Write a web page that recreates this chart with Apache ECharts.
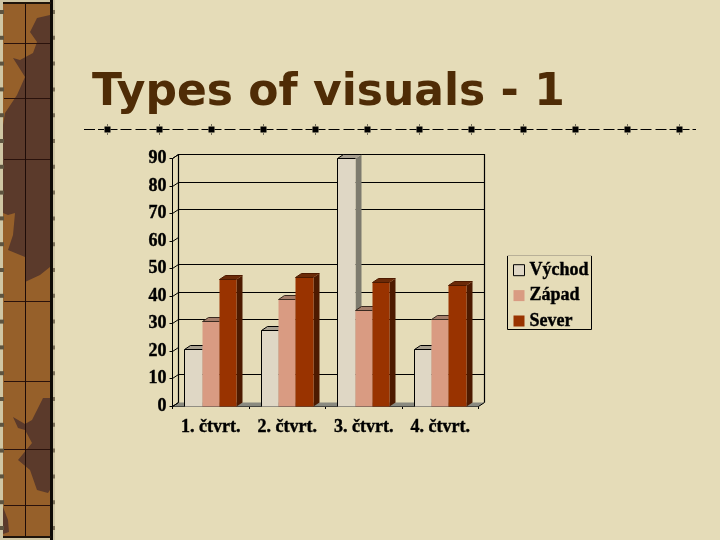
<!DOCTYPE html>
<html>
<head>
<meta charset="utf-8">
<style>html,body{margin:0;padding:0;background:#E5DCB8}#c{width:720px;height:540px}</style>
<script src="https://cdn.jsdelivr.net/npm/echarts@6/dist/echarts.min.js"></script>
</head>
<body>
<div id="c"></div>
<script>
const categories = ['1. čtvrt.', '2. čtvrt.', '3. čtvrt.', '4. čtvrt.'];
const vychod = [20.4, 27.4, 90, 20.4];
const zapad = [30.6, 38.6, 34.6, 31.6];
const sever = [45.9, 46.9, 45, 43.9];
const gridValues = [10, 30, 40, 50, 70, 80, 90];
const tickValues = [0, 10, 20, 30, 40, 50, 60, 70, 80, 90];

const DX = 6, DY = -4, INK = '#000';
const serif = '"Liberation Serif", serif';
const chart = echarts.init(document.getElementById('c'), null, {renderer: 'canvas'});

function poly(points, fill) {
  return {type: 'polygon', shape: {points}, style: {fill, stroke: null}, silent: true};
}
function line(points, w, color) {
  return {type: 'polyline', shape: {points}, style: {fill: null, stroke: color || INK, lineWidth: w || 1}, silent: true};
}
function snap(v) { return Math.round(v - 0.5) + 0.5; }

function wallsRender(params, api) {
  const cs = params.coordSys;
  const value = api.value(0);
  const y = snap(api.coord([0, value])[1]);
  const L = snap(cs.x), R = snap(cs.x + cs.width), B = snap(cs.y + cs.height), T = snap(cs.y);
  const kids = [];
  if (params.dataIndex === 0) {
    kids.push(poly([[L, B], [L + DX, B + DY], [R + DX, B + DY], [R, B]], '#8A8A80'));
    kids.push(line([[L, B], [L + DX, B + DY]]));
    kids.push(line([[R, B], [R + DX, B + DY]]));
    kids.push(line([[L + DX, B + DY], [L + DX, T + DY], [R + DX, T + DY], [R + DX, B + DY]], 1.2));
    kids.push(line([[L, T], [L + DX, T + DY]]));
  }
  if (api.value(1) === 1) kids.push(line([[L + DX, y + DY], [R + DX, y + DY]], 1.2));
  kids.push(line([[L, y], [L + DX, y + DY]]));
  return {type: 'group', children: kids};
}

function barRender(slot, colors, leftEdge) {
  return function (params, api) {
    const cat = api.value(0), val = api.value(1);
    const c = api.coord([cat, val]), base = api.coord([cat, 0]);
    const band = api.size([1, 0])[0];
    const w = band * 0.2255;
    const x0 = snap(c[0] + (slot - 1.5) * w), x1 = snap(c[0] + (slot - 0.5) * w), top = snap(c[1]), bot = snap(base[1]);
    const kids = [
      poly([[x1, top], [x1 + DX, top + DY], [x1 + DX, bot + DY], [x1, bot]], colors.side),
      poly([[x0, top], [x0 + DX, top + DY], [x1 + DX, top + DY], [x1, top]], colors.top),
      poly([[x0, top], [x1, top], [x1, bot], [x0, bot]], colors.front),
      line([[x0, top], [x1, top]], 1, colors.edge),
      line([[x0, top], [x0 + DX, top + DY], [x1 + DX, top + DY]], 1, colors.edge)
    ];
    if (leftEdge) kids.push(line([[x0, top], [x0, bot]], 1, INK));
    return {type: 'group', children: kids};
  };
}

function barSeries(name, values, slot, colors, leftEdge) {
  return {
    type: 'custom', name, coordinateSystem: 'cartesian2d',
    itemStyle: {color: colors.front},
    encode: {x: 0, y: 1},
    data: values.map((v, i) => [i, v]),
    renderItem: barRender(slot, colors, leftEdge),
    silent: true, animation: false, z: 3 + slot
  };
}

// decoration: left strip
const strip = [];
strip.push({type: 'rect', shape: {x: 0, y: 0, width: 55, height: 540}, style: {fill: '#CFC6A4'}, silent: true});
strip.push({type: 'rect', shape: {x: 3, y: 3, width: 47, height: 534}, style: {fill: '#96602A'}, silent: true});
const dark = '#5B3A2B';
[
  [[50, 15], [37, 18], [30, 32], [37, 42], [33, 53], [20, 60], [13, 58], [25, 77], [17, 95], [5, 113], [3, 125], [3, 213], [8, 215], [15, 213], [13, 235], [8, 250], [25, 257], [25, 282], [40, 275], [50, 267]],
  [[50, 398], [43, 398], [36, 412], [32, 420], [25, 424], [13, 417], [18, 428], [25, 430], [32, 443], [18, 460], [30, 470], [37, 490], [48, 493], [50, 490]],
  [[3, 507], [8, 520], [9, 532], [3, 534]]
].forEach(p => strip.push(poly(p, dark)));
[43, 98, 159, 301, 381, 449, 505].forEach(y => strip.push(line([[4, y + .5], [50, y + .5]], 1, '#2A120C')));
strip.push(line([[25.5, 3], [25.5, 537]], 1, '#1E0C08'));
strip.push({type: 'rect', shape: {x: 50, y: 0, width: 3, height: 540}, style: {fill: '#0E0B06'}, silent: true});
strip.push({type: 'rect', shape: {x: 3, y: 2, width: 48, height: 2}, style: {fill: '#1E140A'}, silent: true});
strip.push({type: 'rect', shape: {x: 3, y: 536, width: 48, height: 2}, style: {fill: '#1E140A'}, silent: true});
for (let y = 10; y < 540; y += 25.8) {
  strip.push({type: 'rect', shape: {x: 0, y, width: 4, height: 4}, style: {fill: '#5E5440'}, silent: true});
  strip.push({type: 'rect', shape: {x: 53, y, width: 2, height: 4}, style: {fill: '#7A7058'}, silent: true});
}

// decoration: dashed rule with squares
const rule = [];
const ruleY = 129.5;
rule.push(line([[84, ruleY], [95, ruleY]]));
rule.push(line([[98, ruleY], [104, ruleY]]));
for (let x = 107.5; x < 690; x += 52.0) {
  rule.push({type: 'rect', shape: {x: x - 3, y: ruleY - 3, width: 6, height: 6}, style: {fill: '#000'}, silent: true});
  rule.push(line([[x, ruleY - 5], [x, ruleY - 4]]));
  rule.push(line([[x, ruleY + 4], [x, ruleY + 5]]));
  [[3, 10], [13, 24], [28, 39], [42, 49]].forEach(s => {
    if (x + s[0] < 697) rule.push(line([[x + s[0], ruleY], [Math.min(x + s[1], 696), ruleY]]));
  });
}

// decoration: legend frame
const frame = [
  line([[507.5, 256], [507.5, 329.5], [591.5, 329.5], [591.5, 256]]),
  line([[507.5, 255.5], [591.5, 255.5]], 1, '#B8B098')
];

const labelFont = {fontFamily: serif, fontWeight: 'bold', fontSize: 18, color: '#000', textBorderColor: '#000', textBorderWidth: 0.4};

chart.setOption({
  backgroundColor: '#E5DCB8',
  animation: false,
  title: {
    text: 'Types of visuals - 1', left: 87, top: 67,
    textStyle: {fontFamily: '"DejaVu Sans", sans-serif', fontWeight: 'bold', fontSize: 44, color: '#4F2C06'}
  },
  grid: {left: 172.5, right: 241.5, top: 158.5, bottom: 134, containLabel: false},
  xAxis: {
    type: 'category', data: categories,
    axisLine: {show: true, lineStyle: {color: '#000', width: 1}},
    axisTick: {show: true, length: 3, alignWithLabel: false, lineStyle: {color: '#000'}},
    axisLabel: Object.assign({margin: 12, interval: 0}, labelFont),
    splitLine: {show: false}
  },
  yAxis: {
    type: 'value', min: 0, max: 90, interval: 10,
    axisLine: {show: true, lineStyle: {color: '#000', width: 1}},
    axisTick: {show: true, length: 3, lineStyle: {color: '#000'}},
    axisLabel: Object.assign({margin: 6, padding: [3, 0, 0, 0]}, labelFont),
    splitLine: {show: false}
  },
  legend: {
    show: true, orient: 'vertical', left: 513, top: 261, padding: 0,
    itemWidth: 11, itemHeight: 11, itemGap: 7,
    data: [
      {name: 'Východ', itemStyle: {borderColor: '#000', borderWidth: 1}},
      {name: 'Západ'},
      {name: 'Sever'}
    ],
    textStyle: Object.assign({lineHeight: 12}, labelFont),
    selectedMode: false,
    icon: 'rect'
  },
  graphic: strip.concat(rule, frame),
  series: [
    {
      type: 'custom', name: 'walls', coordinateSystem: 'cartesian2d',
      encode: {y: 0},
      data: tickValues.map(v => [v, gridValues.includes(v) ? 1 : 0]),
      renderItem: wallsRender, silent: true, animation: false, z: 1
    },
    barSeries('Východ', vychod, 0, {front: '#DFD7C5', top: '#A8A090', side: '#7D7A6E', edge: '#000'}, true),
    barSeries('Západ', zapad, 1, {front: '#D99B82', top: '#A57E6B', side: '#6E4E40', edge: '#3A2A20'}, false),
    barSeries('Sever', sever, 2, {front: '#993300', top: '#6B2A08', side: '#4D1A00', edge: '#4D1A00'}, false)
  ]
});
</script>
</body>
</html>
